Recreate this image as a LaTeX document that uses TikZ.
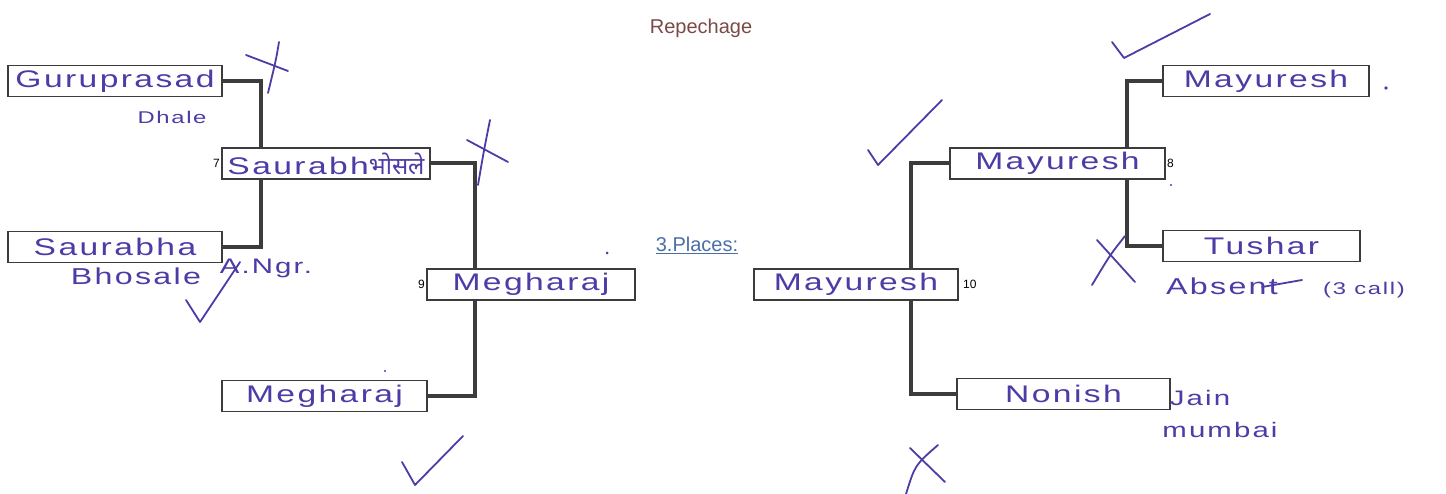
\documentclass[tikz,border=0pt]{standalone}
\usepackage{fontspec}
\setmainfont{Liberation Sans}
\newfontfamily\hand[FakeStretch=1.4,LetterSpace=10]{Liberation Sans}
\newfontfamily\handdeva[Script=Devanagari]{Noto Sans}
\usetikzlibrary{backgrounds}
\definecolor{ink}{HTML}{4B3CA6}
\definecolor{boxgray}{HTML}{3C3C3C}
\definecolor{titlebrown}{HTML}{7A4A46}
\definecolor{placeblue}{HTML}{4A6EA8}
\tikzset{
  entry/.style={draw=boxgray, line width=1.8pt, fill=white, minimum height=31pt, inner sep=0pt,
    text=ink, font=\hand\fontsize{24}{24}\selectfont},
  link/.style={draw=boxgray, line width=4pt},
  seed/.style={font=\fontsize{12}{12}\selectfont, inner sep=1pt},
  note/.style={text=ink, font=\hand\fontsize{21}{21}\selectfont},
  pen/.style={draw=ink, line width=1.8pt, line cap=round, line join=round}
}
\begin{document}
\begin{tikzpicture}[x=1pt, y=-1pt]
    \useasboundingbox (0,0) rectangle (1446,494);
    % Title and heading
    \node[text=titlebrown, font=\fontsize{20}{20}\selectfont] (title) at (701,28) {Repechage};
    \node[text=placeblue, font=\fontsize{20}{20}\selectfont] (places) at (697,245) {\underline{3.Places:}};

    % Left bracket
    \node[entry, minimum width=214pt] (gurup) at (115,81) {Guruprasad};
    \node[entry, minimum width=208pt] (saur) at (326,163.5) {Saurabh{\handdeva भोसले}};
    \node[entry, minimum width=214pt] (sayr) at (115,247) {Saurabha};
    \node[entry, minimum width=208pt] (megw) at (531,284.5) {Megharaj};
    \node[entry, minimum width=205pt] (megb) at (324.5,396) {Megharaj};

    % Right bracket
    \node[entry, minimum width=206pt] (maytop) at (1266,81) {Mayuresh};
    \node[entry, minimum width=215pt] (mays) at (1057.5,163.5) {Mayuresh};
    \node[entry, minimum width=197pt] (tush) at (1261.5,246) {Tushar};
    \node[entry, minimum width=204pt] (mayw) at (856,284.5) {Mayuresh};
    \node[entry, minimum width=213pt] (noni) at (1063.5,394) {Nonish};

    % Match numbers
    \node[seed, anchor=east] (n7) at (saur.west) {7};
    \node[seed, anchor=east] (n9) at (megw.west) {9};
    \node[seed, anchor=west] (n8) at (mays.east) {8};
    \node[seed, anchor=west] (n10) at ([xshift=3pt]mayw.east) {10};

    % Connectors
    \begin{scope}[on background layer]
        \draw[link] (gurup.east) -- ++(38,0) |- (sayr.east);
        \draw[link] (saur.east) -- ++(44,0) |- (megb.east);
        \draw[link] (maytop.west) -- ++(-35,0) |- (tush.west);
        \draw[link] (mays.west) -- ++(-38,0) |- (noni.west);
    \end{scope}

    % Handwritten notes
    \node[note, font=\hand\fontsize{17}{17}\selectfont] (dhale) at (172,117) {Dhale};
    \node[note, font=\hand\fontsize{23}{23}\selectfont] (bhos) at (136,276) {Bhosale};
    \node[note] (angr) at (266,268) {A.Ngr.};
    \node[note, font=\hand\fontsize{23}{23}\selectfont] (absent) at (1222,286) {Absent};
    \node[note, font=\hand\fontsize{17}{17}\selectfont] (call) at (1364,290) {(3 call)};
    \node[note] (jain) at (1200,398) {Jain};
    \node[note] (mumb) at (1220,430) {mumbai};

    % Ticks and crosses
    \draw[pen] (279,42) .. controls (276,60) .. (268,93);
    \draw[pen] (246,55) -- (288,71);
    \draw[pen] (490,120) .. controls (484,150) .. (478,185);
    \draw[pen] (467,140) -- (508,162);
    \draw[pen] (186,300) -- (200,322) -- (240,262);
    \draw[pen] (402,462) -- (415,485) -- (463,436);
    \draw[pen] (868,150) -- (878,165) -- (942,100);
    \draw[pen] (1112,42) -- (1124,58) -- (1210,14);
    \draw[pen] (1097,240) -- (1135,282);
    \draw[pen] (1125,236) .. controls (1110,255) .. (1092,285);
    \draw[pen] (910,448) -- (945,482);
    \draw[pen] (938,445) .. controls (915,465) .. (906,494);
    \draw[pen] (1262,287) -- (1302,280);
    \fill[ink] (1386,88) circle (1.8pt);
    \fill[ink] (1171,185) circle (1.2pt);
    \fill[ink] (607,253) circle (1.5pt);
    \fill[ink] (385,371) circle (1.2pt);
\end{tikzpicture}
\end{document}
